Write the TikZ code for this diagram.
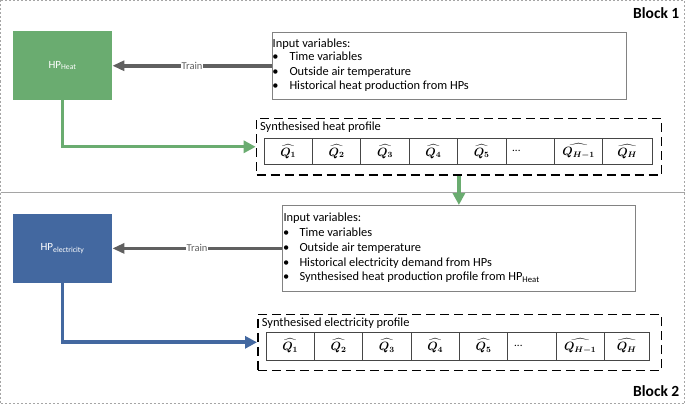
\documentclass[tikz,border=0pt]{standalone}
\usepackage{fontspec}
\setmainfont{Carlito}
\usepackage{amsmath,bm}
\usetikzlibrary{arrows.meta,calc}
\definecolor{hpgreen}{RGB}{106,172,112}
\definecolor{hpblue}{RGB}{67,104,160}
\definecolor{traingray}{RGB}{96,96,96}
\definecolor{framegray}{RGB}{165,165,165}
\definecolor{boxgray}{RGB}{130,130,130}
\definecolor{cellgray}{RGB}{70,70,70}
\begin{document}
\begin{tikzpicture}[x=1pt,y=-1pt,
  hpbox/.style={rectangle, anchor=north west, inner sep=0pt, text=white, font=\fontsize{11}{13}\selectfont},
  inbox/.style={draw=boxgray, line width=0.8pt, rectangle, anchor=north west, inner sep=0pt},
  profbox/.style={draw=black, line width=1.6pt, dash pattern=on 9pt off 5pt, rectangle, anchor=north west, inner sep=0pt},
  rowbox/.style={draw=cellgray, line width=0.8pt, rectangle, anchor=north west, inner sep=0pt},
  gridline/.style={draw=cellgray, line width=0.8pt},
  qtxt/.style={inner sep=0pt, font=\fontsize{11.5}{13}\selectfont\boldmath},
  txt/.style={anchor=base west, inner sep=0pt, font=\fontsize{12.4}{14}\selectfont},
  blocklbl/.style={anchor=base east, inner sep=0pt, font=\bfseries\fontsize{15.5}{18}\selectfont},
  trainarrow/.style={draw=traingray, line width=3.7pt, -{Triangle[length=12pt,width=10pt]}},
  trainlbl/.style={fill=white, text=traingray, inner sep=1pt, font=\fontsize{10.5}{12}\selectfont},
  greenarrow/.style={draw=hpgreen, line width=3.3pt, -{Triangle[length=12pt,width=12pt]}},
  bluearrow/.style={draw=hpblue, line width=3.7pt, -{Triangle[length=12pt,width=12pt]}},
  dotstxt/.style={anchor=west, inner sep=0pt, font=\fontsize{11}{13}\selectfont}
]
\useasboundingbox (0,0) rectangle (685,404);
% frames
\draw[framegray, line width=0.8pt, dash pattern=on 2pt off 2pt] (0.5,0.5) rectangle (684.5,403.5);
\draw[framegray, line width=0.9pt] (0.5,192.5) -- (684.5,192.5);
\node[blocklbl] (b1) at (679.5,18.3) {Block 1};
\node[blocklbl] (b2) at (679.5,396.7) {Block 2};

% ---------- Block 1 ----------
\node[hpbox, fill=hpgreen, minimum width=99.3pt, minimum height=68pt] (heat) at (12.7,31.3) {HP\textsubscript{Heat}};
\node[inbox, minimum width=354pt, minimum height=67.3pt] (in1) at (271.7,31.7) {};
\node[txt] (i1t) at (272.5,47.3) {Input variables:};
\node[txt] (i1b1) at (272.2,61) {\textbullet};
\node[txt] (i1l1) at (289.3,61) {Time variables};
\node[txt] (i1b2) at (272.2,75) {\textbullet};
\node[txt] (i1l2) at (289.3,75) {Outside air temperature};
\node[txt] (i1b3) at (272.2,89) {\textbullet};
\node[txt] (i1l3) at (289.3,89) {Historical heat production from HPs};

\node[profbox, minimum width=404.8pt, minimum height=56.6pt] (prof1) at (255.7,117.7) {};
\node[txt] (p1t) at (260,130) {Synthesised heat profile};
\node[rowbox, minimum width=387.7pt, minimum height=25.7pt] (row1) at (264,138.3) {};
\foreach \x in {312.3,360.7,409.3,457.3,506,554.3,602.7}
  \draw[gridline] (\x,138.3) -- (\x,164);
\foreach \i/\xc/\c in {1/288.2/{$\widehat{Q_1}$},2/336.5/{$\widehat{Q_2}$},3/385/{$\widehat{Q_3}$},4/433.3/{$\widehat{Q_4}$},5/481.7/{$\widehat{Q_5}$},7/578.5/{$\widehat{Q_{H-1}}$},8/627.2/{$\widehat{Q_H}$}}
  \node[qtxt] (h\i) at (\xc,151.2) {\c};
\node[dotstxt] (hd) at (512,151.2) {...};

\draw[trainarrow] (in1.west) -- (heat.east |- in1.west) node[midway, trainlbl] (tr1) {Train};
\draw[greenarrow] (heat.south) |- (prof1.west);

% ---------- Block 2 ----------
\node[hpbox, fill=hpblue, minimum width=99.3pt, minimum height=68.3pt] (elec) at (12.7,214) {HP\textsubscript{electricity}};
\node[inbox, minimum width=353.3pt, minimum height=86pt] (in2) at (281.7,205) {};
\node[txt] (i2t) at (283.3,221.7) {Input variables:};
\node[txt] (i2b1) at (283,236.5) {\textbullet};
\node[txt] (i2l1) at (299.3,236.5) {Time variables};
\node[txt] (i2b2) at (283,251.3) {\textbullet};
\node[txt] (i2l2) at (299.3,251.3) {Outside air temperature};
\node[txt] (i2b3) at (283,266.1) {\textbullet};
\node[txt] (i2l3) at (299.3,266.1) {Historical electricity demand from HPs};
\node[txt] (i2b4) at (283,280.9) {\textbullet};
\node[txt] (i2l4) at (299.3,280.9) {Synthesised heat production profile from HP\textsubscript{Heat}};

\node[profbox, minimum width=403.7pt, minimum height=56pt] (prof2) at (257,313.5) {};
\node[txt] (p2t) at (261.7,326.7) {Synthesised electricity profile};
\node[rowbox, minimum width=383pt, minimum height=27.5pt] (row2) at (266,332) {};
\foreach \x in {314.3,362.7,411,459.3,507.7,556,604.3}
  \draw[gridline] (\x,332) -- (\x,359.5);
\foreach \i/\xc/\c in {1/290.2/{$\widehat{Q_1}$},2/338.5/{$\widehat{Q_2}$},3/386.9/{$\widehat{Q_3}$},4/435.2/{$\widehat{Q_4}$},5/483.5/{$\widehat{Q_5}$},7/580.2/{$\widehat{Q_{H-1}}$},8/626.7/{$\widehat{Q_H}$}}
  \node[qtxt] (e\i) at (\xc,345.7) {\c};
\node[dotstxt] (ed) at (514,345.7) {...};

\draw[trainarrow] (in2.west) -- (elec.east |- in2.west) node[midway, trainlbl] (tr2) {Train};
\draw[bluearrow] (elec.south) |- (prof2.west);

% link between blocks
\draw[greenarrow] (prof1.south) -- (prof1.south |- in2.north);
\end{tikzpicture}
\end{document}
